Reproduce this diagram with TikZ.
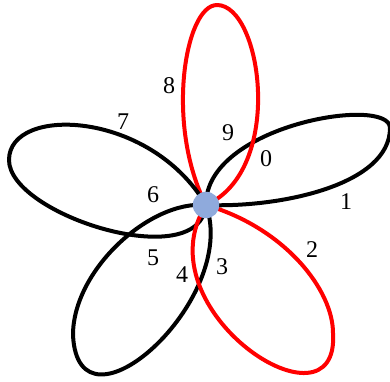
\documentclass[tikz,border=0pt]{standalone}
\usepackage{fontspec}
\setmainfont{Liberation Serif}
\definecolor{nodeblue}{RGB}{143,170,220}
\begin{document}
\begin{tikzpicture}[x=1pt,y=-1pt,
  petal/.style={line width=4pt,line join=round},
  blackpetal/.style={petal,draw=black},
  redpetal/.style={petal,draw=red},
  lbl/.style={font=\fontsize{24}{24}\selectfont,inner sep=0pt}]
\useasboundingbox (0,0) rectangle (390,381);
\coordinate (v0) at (206,205);
\coordinate (tR) at (390,128);
\coordinate (tT) at (217,5);
\coordinate (tL) at (9,160);
\coordinate (tBL) at (73,335);
\coordinate (tBR) at (333,333);
% right petal
\draw[blackpetal] (v0) .. controls (280,208) and (390,185) .. (tR)
  .. controls (390,95) and (205,125) .. (v0);
% top petal
\draw[redpetal] (v0) .. controls (165,125) and (185,5) .. (tT)
  .. controls (262,5) and (285,170) .. (v0);
% left petal
\draw[blackpetal] (v0) .. controls (150,110) and (9,105) .. (tL)
  .. controls (9,215) and (200,275) .. (v0);
% lower-left petal
\draw[blackpetal] (v0) .. controls (150,200) and (73,270) .. (tBL)
  .. controls (78,445) and (240,300) .. (v0);
% lower-right petal
\draw[redpetal] (v0) .. controls (140,310) and (340,440) .. (tBR)
  .. controls (333,290) and (285,228) .. (v0);
\node[circle,fill=nodeblue,minimum size=26.5pt,inner sep=0pt] (v) at (v0) {};
\node[lbl] (l0) at (266,159) {0};
\node[lbl] (l1) at (346,202) {1};
\node[lbl] (l2) at (312,250) {2};
\node[lbl] (l3) at (222,267) {3};
\node[lbl] (l4) at (182,275) {4};
\node[lbl] (l5) at (153,258) {5};
\node[lbl] (l6) at (153,195) {6};
\node[lbl] (l7) at (123,122) {7};
\node[lbl] (l8) at (169,86) {8};
\node[lbl] (l9) at (228,133) {9};
\end{tikzpicture}
\end{document}
